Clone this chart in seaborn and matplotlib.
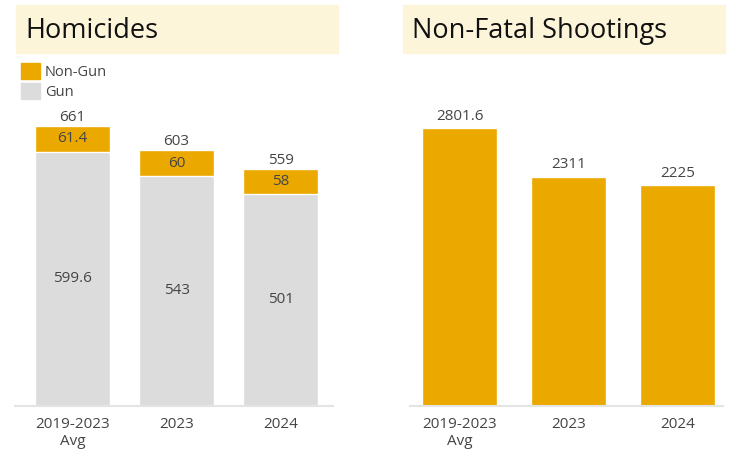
import numpy as np
import pandas as pd
import seaborn as sns
import matplotlib.pyplot as plt
from matplotlib.patches import Rectangle, Patch

years = ['2019-2023\nAvg', '2023', '2024']
gun = [599.6, 543, 501]
non_gun = [61.4, 60, 58]
hom_total = [661, 603, 559]
shootings = [2801.6, 2311, 2225]

orange = '#EBA900'
grey = '#DCDCDC'
text_col = '#454545'
box_col = '#FDF5DA'

hom = pd.DataFrame({'year': years, 'gun': gun, 'non_gun': non_gun, 'total': hom_total})
nfs = pd.DataFrame({'year': years, 'value': shootings})

sns.set_style('white')
plt.rcParams['font.family'] = ['Open Sans', 'DejaVu Sans']

W, H = 750, 453
fig = plt.figure(figsize=(7.5, 4.53), dpi=100)


def px_axes(x0, x1, y_top, y_bot):
    return fig.add_axes([x0 / W, 1 - y_bot / H, (x1 - x0) / W, (y_bot - y_top) / H])


def title_box(x0, x1, label):
    fig.patches.append(Rectangle((x0 / W, 1 - 53 / H), (x1 - x0) / W, 48 / H,
                                 transform=fig.transFigure, color=box_col, zorder=0))
    fig.text((x0 + 9) / W, 1 - 31 / H, label, fontsize=19.5, color='#111111',
             va='center', ha='left')


def style(ax):
    sns.despine(ax=ax, left=True)
    ax.spines['bottom'].set_color('#E4E4E4')
    ax.spines['bottom'].set_linewidth(1.5)
    ax.set_yticks([])
    ax.set_xlabel('')
    ax.set_ylabel('')
    ax.tick_params(axis='x', length=0, labelsize=11, labelcolor=text_col, pad=8)


# Homicides
ax1 = px_axes(15, 333, 100, 406)
sns.barplot(data=hom, x='year', y='total', color=orange, width=0.72,
            saturation=1, ax=ax1)
sns.barplot(data=hom, x='year', y='gun', color=grey, width=0.72,
            saturation=1, ax=ax1)
ax1.set_ylim(0, 722)
ax1.set_xlim(-0.55, 2.5)
style(ax1)
for i, row in hom.iterrows():
    ax1.text(i, row['total'] + 3, f"{row['total']:g}", ha='center', va='bottom',
             fontsize=11, color=text_col)
    ax1.text(i, row['gun'] + row['non_gun'] / 2, f"{row['non_gun']:g}", ha='center',
             va='center', fontsize=11, color=text_col)
    ax1.text(i, row['gun'] / 2, f"{row['gun']:g}", ha='center', va='center',
             fontsize=11, color=text_col)

handles = [Patch(color=orange, label='Non-Gun'), Patch(color=grey, label='Gun')]
fig.legend(handles=handles, loc='upper left', bbox_to_anchor=(14 / W, 1 - 56 / H),
           frameon=False, fontsize=10.5, labelcolor=text_col, handlelength=1.3,
           handleheight=1.3, handletextpad=0.3, labelspacing=0.2, borderpad=0)

# Non-Fatal Shootings
ax2 = px_axes(410, 723, 100, 406)
sns.barplot(data=nfs, x='year', y='value', color=orange, width=0.69,
            saturation=1, ax=ax2)
ax2.set_ylim(0, 3084)
ax2.set_xlim(-0.455, 2.42)
style(ax2)
for i, v in enumerate(shootings):
    ax2.text(i, v + 45, f"{v:g}", ha='center', va='bottom', fontsize=11, color=text_col)

title_box(16, 338, 'Homicides')
title_box(403, 725, 'Non-Fatal Shootings')

fig.savefig('out.png', dpi=100)
